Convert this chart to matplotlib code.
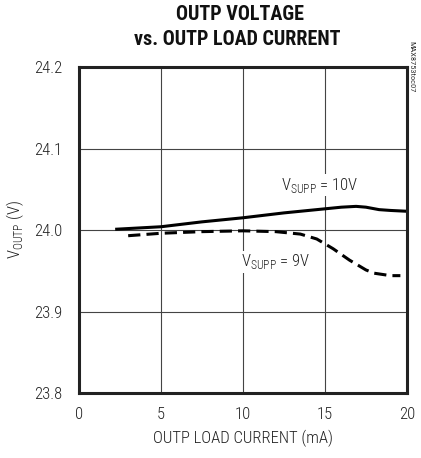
import matplotlib.pyplot as plt

plt.rcParams['font.family'] = ['Roboto Condensed', 'DejaVu Sans']
plt.rcParams['mathtext.fontset'] = 'custom'
plt.rcParams['mathtext.rm'] = 'Roboto Condensed'

# Данные
cur_10v = [2.3, 5.0, 7.5, 10.0, 12.5, 15.0, 16.0, 16.9, 17.5, 18.3, 19.0, 20.0]
v_10v = [24.001, 24.004, 24.010, 24.015, 24.021, 24.026, 24.028, 24.029, 24.028, 24.025, 24.024, 24.023]

cur_9v = [3.0, 5.0, 7.5, 10.0, 12.0, 13.5, 14.5, 15.5, 16.5, 17.5, 18.0, 19.0, 19.6]
v_9v = [23.993, 23.996, 23.998, 23.999, 23.998, 23.995, 23.989, 23.977, 23.963, 23.951, 23.947, 23.944, 23.944]

x_ticks = [0, 5, 10, 15, 20]
y_ticks = [23.8, 23.9, 24.0, 24.1, 24.2]

fig = plt.figure(figsize=(4.21, 4.58), dpi=100)
ax = fig.add_axes([0.1876, 0.1419, 0.779, 0.7118])

ax.plot(cur_10v, v_10v, color='black', lw=2.2)
ax.plot(cur_9v, v_9v, color='black', lw=2.2, linestyle=(0, (4.0, 2.0)))

ax.set_xlim(0, 20)
ax.set_ylim(23.8, 24.2)
ax.set_xticks(x_ticks)
ax.set_yticks(y_ticks)
ax.set_yticklabels([f'{v:.1f}' for v in y_ticks])
ax.tick_params(length=0, labelsize=12, labelcolor='#222222')
ax.tick_params(axis='x', pad=10)
ax.tick_params(axis='y', pad=12)
for lab in ax.get_xticklabels() + ax.get_yticklabels():
    lab.set_fontweight('light')
ax.grid(True, color='#444444', lw=0.8)
for s in ax.spines.values():
    s.set_linewidth(2.2)
    s.set_color('#222222')

ax.set_xlabel('OUTP LOAD CURRENT (mA)', fontsize=12, labelpad=6, color='#222222',
              fontweight='light')
ax.set_ylabel(r'V$_{\mathregular{OUTP}}$ (V)', fontsize=12, labelpad=6, color='#222222',
              fontweight='light')

fig.text(0.57, 0.969, 'OUTP VOLTAGE', ha='center', va='center',
         fontsize=14.5, fontweight='bold', color='#111111')
fig.text(0.563, 0.914, 'vs. OUTP LOAD CURRENT', ha='center', va='center',
         fontsize=14.5, fontweight='bold', color='#111111')

# подписи кривых на белом фоне, поверх сетки
box = dict(facecolor='white', edgecolor='none', pad=1)
ax.text(12.3, 24.055, r'V$_{\mathregular{SUPP}}$ = 10V', fontsize=12, va='center',
        color='#222222', fontweight='light', bbox=box)
ax.text(9.9, 23.961, r'V$_{\mathregular{SUPP}}$ = 9V', fontsize=12, va='center',
        color='#222222', fontweight='light', bbox=box)

fig.text(0.978, 0.855, 'MAX8753toc07', rotation=270, ha='center', va='center',
         fontsize=6, color='#333333')

plt.savefig('out.png', dpi=100)
